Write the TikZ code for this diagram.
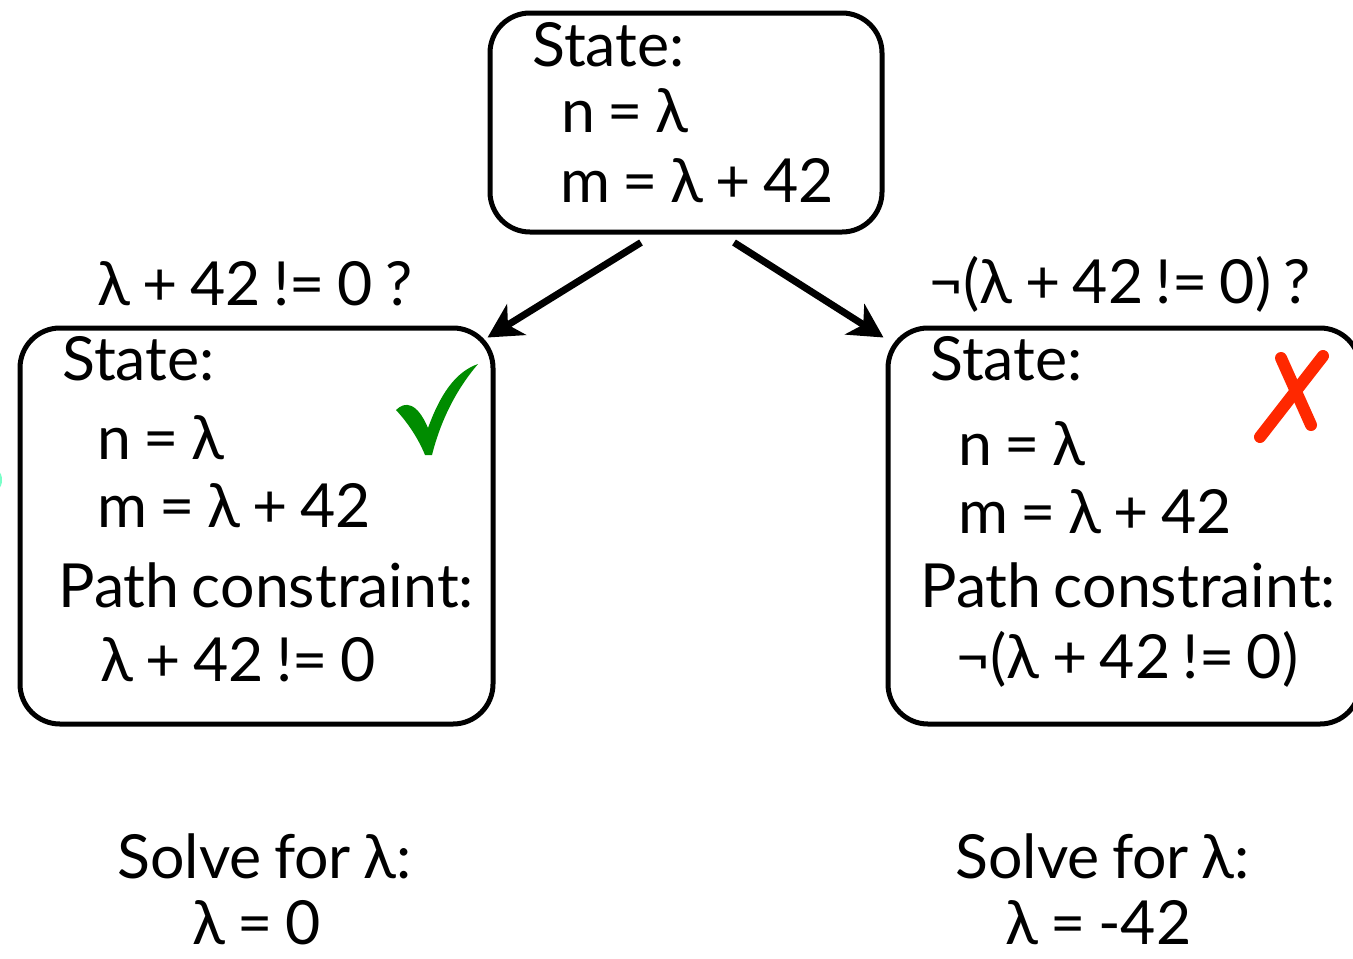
\documentclass[tikz,border=0pt]{standalone}
\usepackage{fontspec}
\setmainfont{Lato}[WordSpace=0.8]
\usetikzlibrary{arrows.meta}
\definecolor{checkgreen}{RGB}{0,140,0}
\definecolor{xred}{RGB}{255,40,0}
\definecolor{mint}{RGB}{120,255,200}
\begin{document}
\begin{tikzpicture}[x=0.5pt,y=-0.5pt,
  box/.style={draw,line width=2.5pt,rounded corners=20pt,inner sep=0pt},
  txt/.style={anchor=base west,inner sep=0pt,font=\fontsize{30.4}{36}\selectfont},
  arr/.style={line width=3.5pt,-{Stealth[length=17pt,width=18pt,inset=5pt]}}]
\useasboundingbox (0,0) rectangle (1353,958);
% boxes
\node[box,minimum width=196pt,minimum height=109.5pt] (top) at (686,122.5) {};
\node[box,minimum width=236.5pt,minimum height=198pt] (left) at (256.5,526) {};
\node[box,minimum width=236pt,minimum height=198pt] (right) at (1124,526) {};
% top text
\node[txt] (t1) at (532,66) {State:};
\node[txt] (t2) at (561,132) {n = λ};
\node[txt] (t3) at (560,202) {m = λ + 42};
% left text
\node[txt] (l1) at (62,380) {State:};
\node[txt] (l2) at (97,459) {n = λ};
\node[txt] (l3) at (97,527) {m = λ + 42};
\node[txt] (l4) at (58,607) {Path constraint:};
\node[txt] (l5) at (100,681) {λ + 42 != 0};
% right text
\node[txt] (r1) at (930,380) {State:};
\node[txt] (r2) at (958,465) {n = λ};
\node[txt] (r3) at (958,533) {m = λ + 42};
\node[txt] (r4) at (920,607) {Path constraint:};
\node[txt] (r5) at (955,678) {¬(λ + 42 != 0)};
% branch labels
\node[txt] (bl) at (97,305) {λ + 42 != 0 ?};
\node[txt] (br) at (928,303) {¬(λ + 42 != 0) ?};
% solve
\node[txt] (s1) at (117,878) {Solve for λ:};
\node[txt] (s2) at (192,944) {λ = 0};
\node[txt] (s3) at (955,878) {Solve for λ:};
\node[txt] (s4) at (1005,944) {λ = -42};
% arrows
\draw[arr] ([xshift=-22.5pt,yshift=-4pt]top.south) -- ([xshift=-4pt,yshift=-6pt]left.north east);
\draw[arr] ([xshift=24pt,yshift=-4pt]top.south) -- ([xshift=-1pt,yshift=-6pt]right.north west);
% check mark
\fill[checkgreen] (396,410) .. controls (405,401) and (417,402) .. (428,428)
  .. controls (440,395) and (455,372) .. (478,364)
  .. controls (460,385) and (442,415) .. (432,455) -- (425,455)
  .. controls (418,438) and (408,423) .. cycle;
% X mark
\draw[xred,line width=6pt,line cap=round] (1281,358) -- (1311,425);
\draw[xred,line width=6pt,line cap=round] (1323,356) -- (1260,437);
% cyan sliver at left edge
\fill[mint] (-10,480) ellipse [x radius=12, y radius=14];
\end{tikzpicture}
\end{document}
